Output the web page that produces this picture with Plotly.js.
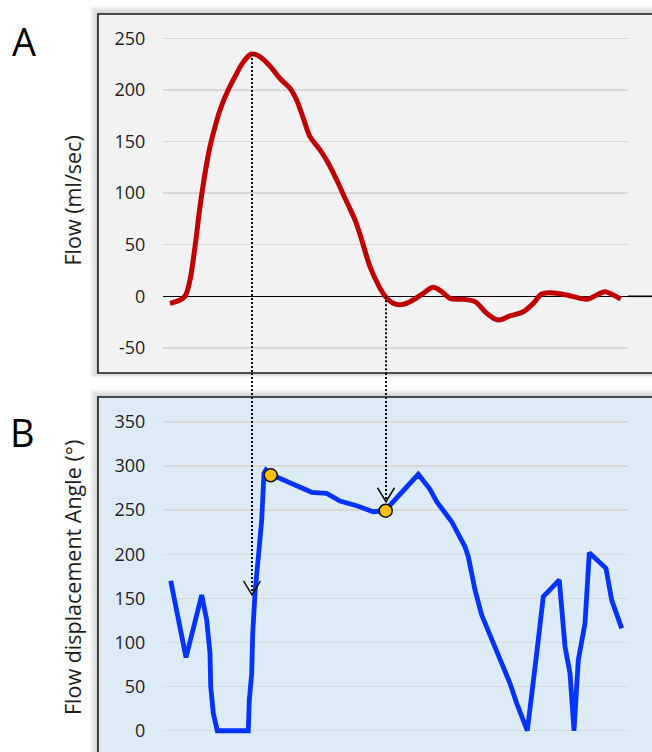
<!DOCTYPE html>
<html>
<head>
<meta charset="utf-8">
<script src="https://cdn.plot.ly/plotly-3.0.1.min.js"></script>
<style>
html,body{margin:0;padding:0;background:#ffffff;}
#chart{width:652px;height:752px;}
</style>
</head>
<body>
<div id="chart"></div>
<script>
// ---- Panel A: flow curve (time in frame units, flow in ml/sec)
const flowTime = [7, 17, 22, 27, 32, 37, 42, 47, 52, 57, 63.7, 72, 80.3, 88.7, 97, 107, 117, 127, 133.7, 140.3, 147, 157, 165.3, 173.7, 182, 192, 198.7, 207, 215.3, 222, 230.3, 237, 247, 260.3, 270.3, 278.7, 287, 300.3, 312, 323.7, 335.3, 347, 360.3, 370.3, 378.7, 387, 403.7, 417, 425.3, 433.7, 442, 450.3, 457.7];
const flowValues = [-6.8, -3.6, 0, 15.8, 48, 86.8, 119, 145, 164, 180.5, 196.7, 212.8, 227, 234.8, 232, 223, 211, 201.5, 190, 172.5, 154.7, 141.8, 128.9, 112.7, 95, 74, 54.6, 28.7, 11, 0.3, -6.8, -8.2, -5.2, 2.9, 8.7, 4.5, -2, -2.9, -5.2, -16.5, -23, -19, -14.9, -6.8, 2.2, 3.5, 1.3, -2, -2.6, 1.3, 4.5, 1.3, -2.6];

// ---- Panel B: flow displacement angle (degrees)
const angleTime = [7.7, 23, 38.7, 43.7, 47, 47.7, 50.3, 54.3, 85.3, 86.3, 88.7, 89.7, 92, 95.3, 98.7, 101, 103, 108, 123.7, 137, 148.7, 163.7, 177, 193.7, 210.3, 222, 255.3, 267, 273.7, 288.7, 302, 305.3, 312, 318.7, 328.7, 337, 347, 353.7, 364.3, 373.7, 380.3, 396.3, 402, 407, 411, 415.3, 422, 426.3, 443, 448.7, 453.7, 458.7];
const angleValues = [170, 83, 153.8, 125.5, 87.7, 50, 19.7, 0, 0, 34.8, 65, 110, 155.7, 201, 238.8, 291.7, 295.5, 290.5, 282.2, 276.5, 270.2, 269, 260.3, 255, 248.2, 249.3, 290.6, 273.6, 259.6, 236.9, 208.5, 197.2, 159.5, 131.1, 104.7, 80.1, 53.7, 31, 0, 87.7, 151.9, 170.8, 95.2, 65, 0, 80, 121.7, 201.7, 184, 148, 131, 116];

// ---- Highlighted angle points (yellow markers)
const keyTime = [107.7, 222.7];
const keyAngle = [289.5, 249.3];

// ---- Dotted links from panel A to panel B
const linkTime = [89, 223];
const linkFlow = [234.8, 0];
const linkAngle = [154, 259.5];

// ---- Tick labels and titles
const flowTicks = [-50, 0, 50, 100, 150, 200, 250];
const flowTickText = ['-50', '0', '50', '100', '150', '200', '250'];
const angleTicks = [0, 50, 100, 150, 200, 250, 300, 350];
const angleTickText = ['0', '50', '100', '150', '200', '250', '300', '350'];
const flowTitle = 'Flow (ml/sec)';
const angleTitle = 'Flow displacement Angle (°)';
const panelLabels = ['A', 'B'];

// ---- Layout geometry (pixels of the 652x752 page)
const W = 652, H = 752;
const px = v => v / W;
const py = v => 1 - v / H;

const rangeA = [-74.3, 273.5];
const rangeB = [-24.1, 378.2];
const domA = [py(373), py(14)];
const domB = [0, py(397)];

const FONT = 'Open Sans, Noto Sans, Liberation Sans, sans-serif';
const gridColor = '#d9d9d9';
const textColor = '#1e1e1e';

const traces = [
  {
    x: flowTime, y: flowValues, xaxis: 'x', yaxis: 'y',
    type: 'scatter', mode: 'lines',
    line: {color: '#c00000', width: 5, shape: 'spline', smoothing: 1},
    hoverinfo: 'skip', showlegend: false
  },
  {
    x: angleTime, y: angleValues, xaxis: 'x', yaxis: 'y2',
    type: 'scatter', mode: 'lines',
    line: {color: '#0433ff', width: 4.8},
    hoverinfo: 'skip', showlegend: false
  },
  {
    x: keyTime, y: keyAngle, xaxis: 'x', yaxis: 'y2',
    type: 'scatter', mode: 'markers',
    marker: {size: 13, color: '#ffc000', line: {color: '#111111', width: 1.5}},
    hoverinfo: 'skip', showlegend: false
  }
];

const shapes = [];
// soft shadows of the panel boxes
function shadow(x0, y0, x1, y1) {
  for (let k = 1; k <= 4; k++) {
    const e = 2 * k;
    shapes.push({type: 'rect', xref: 'paper', yref: 'paper', layer: 'below',
      x0: px(x0 - e), x1: px(x1 + e), y0: py(y1 + e * 0.6), y1: py(y0 - e),
      fillcolor: 'rgba(0,0,0,0.045)', line: {width: 0}});
  }
}
shadow(98, 14, 660, 373);
shadow(98, 397, 660, 760);
// panel boxes
shapes.push({type: 'rect', xref: 'paper', yref: 'paper', layer: 'below',
  x0: px(98), x1: px(660), y0: py(373), y1: py(14),
  fillcolor: '#f2f2f2', line: {color: '#1a1a1a', width: 1.6}});
shapes.push({type: 'rect', xref: 'paper', yref: 'paper', layer: 'below',
  x0: px(98), x1: px(660), y0: py(760), y1: py(397),
  fillcolor: '#ddebf7', line: {color: '#1a1a1a', width: 1.6}});
// zero line extension to the right edge in panel A
shapes.push({type: 'line', xref: 'paper', yref: 'y', layer: 'below',
  x0: px(628), x1: 1, y0: 0, y1: 0, line: {color: '#000000', width: 1.6}});

// dotted connectors
const dotLine = {color: '#111111', width: 2, dash: '2px,2px'};
for (let i = 0; i < linkTime.length; i++) {
  shapes.push({type: 'line', xref: 'x', yref: 'y', layer: 'above',
    x0: linkTime[i], x1: linkTime[i], y0: linkFlow[i], y1: rangeA[0], line: dotLine});
  shapes.push({type: 'line', xref: 'x', yref: 'paper', layer: 'above',
    x0: linkTime[i], x1: linkTime[i], y0: domA[0], y1: domB[1], line: dotLine});
  shapes.push({type: 'line', xref: 'x', yref: 'y2', layer: 'above',
    x0: linkTime[i], x1: linkTime[i], y0: rangeB[1], y1: linkAngle[i], line: dotLine});
  shapes.push({type: 'path', xref: 'x', yref: 'y2', layer: 'above',
    xsizemode: 'pixel', ysizemode: 'pixel', xanchor: linkTime[i], yanchor: linkAngle[i],
    path: 'M-8.5,14L0,0L8.5,14', line: {color: '#111111', width: 1.5}});
}

const yCommon = {
  anchor: 'x', showgrid: true, gridcolor: gridColor, gridwidth: 1.4,
  ticks: 'outside', ticklen: 13, tickcolor: 'rgba(0,0,0,0)',
  tickfont: {family: FONT, size: 18, color: textColor},
  showline: false, fixedrange: true, tickmode: 'array'
};

const layout = {
  width: W, height: H,
  margin: {l: 0, r: 0, t: 0, b: 0, pad: 0},
  paper_bgcolor: '#ffffff', plot_bgcolor: 'rgba(0,0,0,0)',
  showlegend: false,
  font: {family: FONT, color: textColor},
  xaxis: {domain: [px(163), px(628)], range: [0, 465], visible: false, fixedrange: true},
  yaxis: Object.assign({}, yCommon, {
    domain: domA, range: rangeA, tickvals: flowTicks, ticktext: flowTickText,
    zeroline: true, zerolinecolor: '#000000', zerolinewidth: 1.6
  }),
  yaxis2: Object.assign({}, yCommon, {
    domain: domB, range: rangeB, tickvals: angleTicks, ticktext: angleTickText, zeroline: false
  }),
  shapes: shapes,
  annotations: [
    {text: flowTitle, xref: 'paper', yref: 'paper', x: px(72.5), y: py(201), textangle: -90,
     showarrow: false, xanchor: 'center', yanchor: 'middle',
     font: {family: FONT, size: 21.5, color: textColor}},
    {text: angleTitle, xref: 'paper', yref: 'paper', x: px(72.5), y: py(577.5), textangle: -90,
     showarrow: false, xanchor: 'center', yanchor: 'middle',
     font: {family: FONT, size: 21.5, color: textColor}},
    {text: panelLabels[0], xref: 'paper', yref: 'paper', x: px(23.5), y: py(41), showarrow: false,
     xanchor: 'center', yanchor: 'middle', font: {family: FONT, size: 38, color: '#000000'}},
    {text: panelLabels[1], xref: 'paper', yref: 'paper', x: px(22), y: py(432), showarrow: false,
     xanchor: 'center', yanchor: 'middle', font: {family: FONT, size: 38, color: '#000000'}}
  ]
};

Plotly.newPlot('chart', traces, layout, {staticPlot: true, displayModeBar: false});
</script>
</body>
</html>
